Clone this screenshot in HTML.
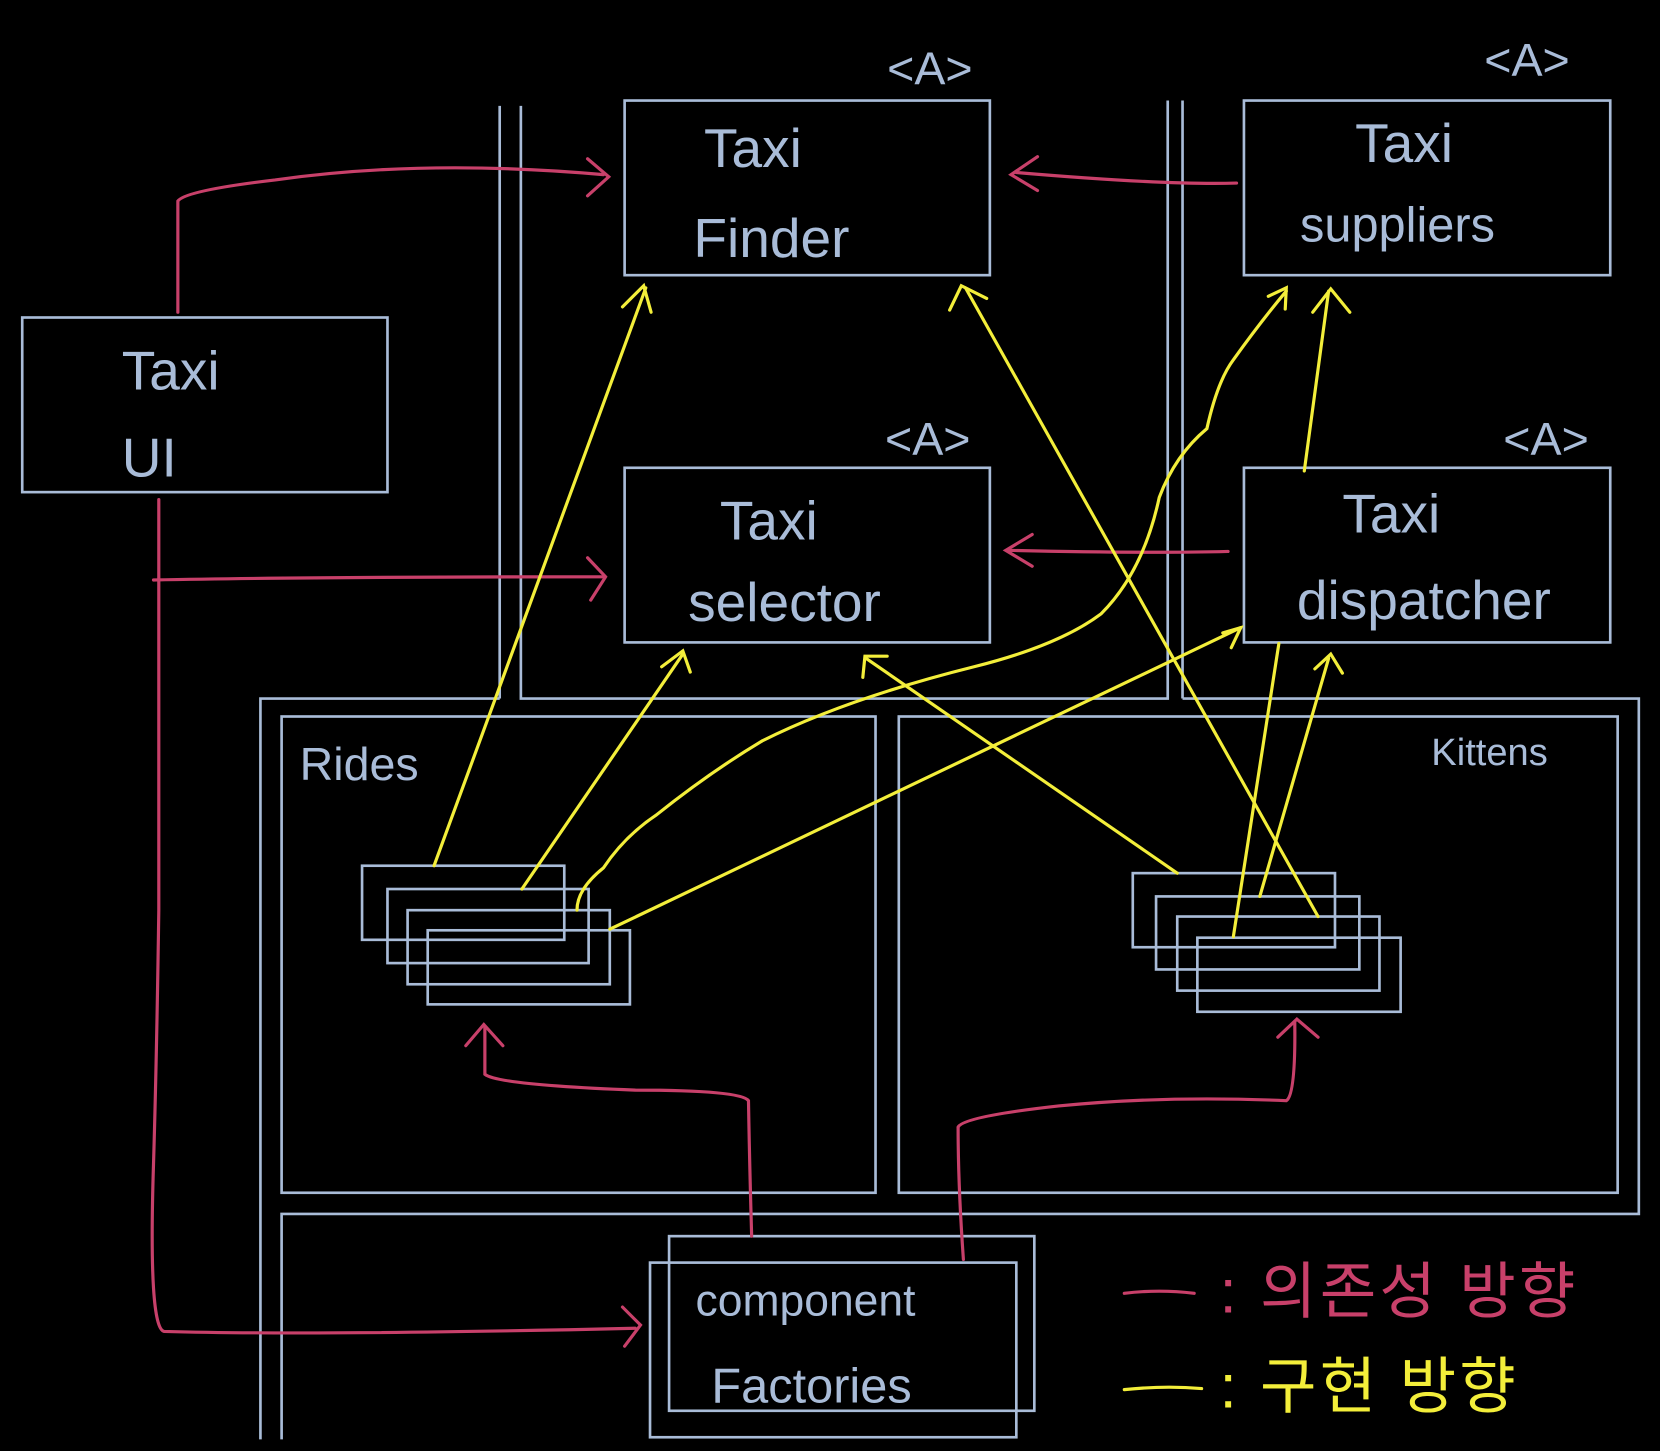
<!DOCTYPE html>
<html><head><meta charset="utf-8"><style>
html,body{margin:0;padding:0;background:#000;}
svg{display:block;}
</style></head><body>
<svg width="1660" height="1451" viewBox="0 0 1568 1371" preserveAspectRatio="none" xmlns="http://www.w3.org/2000/svg">
<rect width="1568" height="1371" fill="#000"/>
<g fill="none" stroke="#a9bcd8" stroke-width="2.5">
<path d="M472 100 V660"/>
<path d="M492 100 V660 H1103 V95"/>
<path d="M1117 95 V660"/>
<path d="M246 1360 V660 H472"/>
<path d="M1117 660 H1548 V1147 H266 V1360"/>
<rect x="266" y="677" width="561" height="450"/>
<rect x="849" y="677" width="679" height="450"/>
<rect x="590" y="95" width="345" height="165"/>
<rect x="1175" y="95" width="346" height="165"/>
<rect x="21" y="300" width="345" height="165"/>
<rect x="590" y="442" width="345" height="165"/>
<rect x="1175" y="442" width="346" height="165"/>
<rect x="632" y="1168" width="345" height="165"/>
<rect x="614" y="1193" width="346" height="165"/>
<rect x="342" y="818" width="191" height="70"/>
<rect x="366" y="840" width="190" height="70"/>
<rect x="385" y="860" width="191" height="70"/>
<rect x="404" y="879" width="191" height="70"/>
<rect x="1070" y="825" width="191" height="70"/>
<rect x="1092" y="847" width="192" height="69"/>
<rect x="1112" y="866" width="191" height="70"/>
<rect x="1131" y="886" width="192" height="70"/>
</g>
<g font-family="Liberation Sans, sans-serif" fill="#a9bcd8" font-size="52">
<text x="665" y="158">Taxi</text>
<text x="655" y="243">Finder</text>
<text x="1280" y="153">Taxi</text>
<text x="1228" y="228" font-size="46">suppliers</text>
<text x="115" y="368">Taxi</text>
<text x="115" y="450">UI</text>
<text x="680" y="510">Taxi</text>
<text x="650" y="587">selector</text>
<text x="1268" y="503">Taxi</text>
<text x="1225" y="585">dispatcher</text>
<text x="657" y="1243" font-size="42">component</text>
<text x="672" y="1325" font-size="46">Factories</text>
<text x="283" y="737" font-size="44">Rides</text>
<text x="1352" y="723" font-size="36">Kittens</text>
<text x="838" y="80" font-size="44">&lt;A&gt;</text>
<text x="1402" y="72" font-size="44">&lt;A&gt;</text>
<text x="836" y="430" font-size="44">&lt;A&gt;</text>
<text x="1420" y="430" font-size="44">&lt;A&gt;</text>
</g>
<g fill="none" stroke="#c8406a" stroke-width="3" stroke-linecap="round">
<path d="M168 295 V190 Q175 180 260 170 Q400 150 570 165"/>
<path d="M555 150 L575 167 L555 185"/>
<path d="M1168 173 Q1100 175 960 163"/>
<path d="M980 148 L955 165 L980 180"/>
<path d="M1160 521 Q1080 523 953 520"/>
<path d="M975 505 L950 520 L975 535"/>
<path d="M145 548 Q300 545 570 545"/>
<path d="M555 527 L572 545 L558 567"/>
<path d="M150 472 V860 Q148 1000 145 1100 Q140 1255 155 1258 Q300 1262 600 1255"/>
<path d="M588 1235 L605 1252 L590 1272"/>
<path d="M710 1168 Q708 1100 707 1040 Q700 1030 600 1030 Q470 1025 458 1015 V970"/>
<path d="M440 988 L457 968 L475 988"/>
<path d="M910 1190 Q905 1120 905 1065 Q910 1055 1000 1045 Q1100 1035 1215 1040 Q1224 1035 1223 965"/>
<path d="M1207 980 L1225 963 L1245 980"/>
<path d="M1062 1222 Q1095 1218 1128 1222"/>
</g>
<g fill="none" stroke="#f3ee3a" stroke-width="3" stroke-linecap="round">
<path d="M410 818 L610 272"/>
<path d="M588 290 L608 270 L615 295"/>
<path d="M493 840 L645 618"/>
<path d="M625 630 L645 615 L652 635"/>
<path d="M1245 866 L912 272"/>
<path d="M897 293 L908 270 L932 282"/>
<path d="M1112 825 L818 622"/>
<path d="M815 640 L817 620 L838 620"/>
<path d="M545 860 Q545 840 570 820 Q590 790 620 770 Q670 730 720 700 Q800 660 920 630 Q1000 610 1040 580 Q1080 540 1095 470 Q1110 430 1140 405 Q1150 360 1165 340 Q1190 305 1215 275"/>
<path d="M1198 280 L1215 272 L1214 292"/>
<path d="M576 878 L1172 593"/>
<path d="M1155 598 L1172 593 L1163 612"/>
<path d="M1232 445 L1255 275"/>
<path d="M1240 295 L1257 273 L1275 295"/>
<path d="M1165 885 L1208 608"/>
<path d="M1190 847 L1255 622"/>
<path d="M1242 632 L1257 618 L1268 636"/>
<path d="M1062 1313 Q1100 1309 1135 1312"/>
</g>
<g font-family="Liberation Sans, Noto Sans CJK KR, sans-serif" font-size="58" letter-spacing="3">
<text x="1152" y="1240" fill="#c8406a">: 의존성 방향</text>
<text x="1152" y="1330" fill="#f3ee3a">: 구현 방향</text>
</g>
</svg>
</body></html>
